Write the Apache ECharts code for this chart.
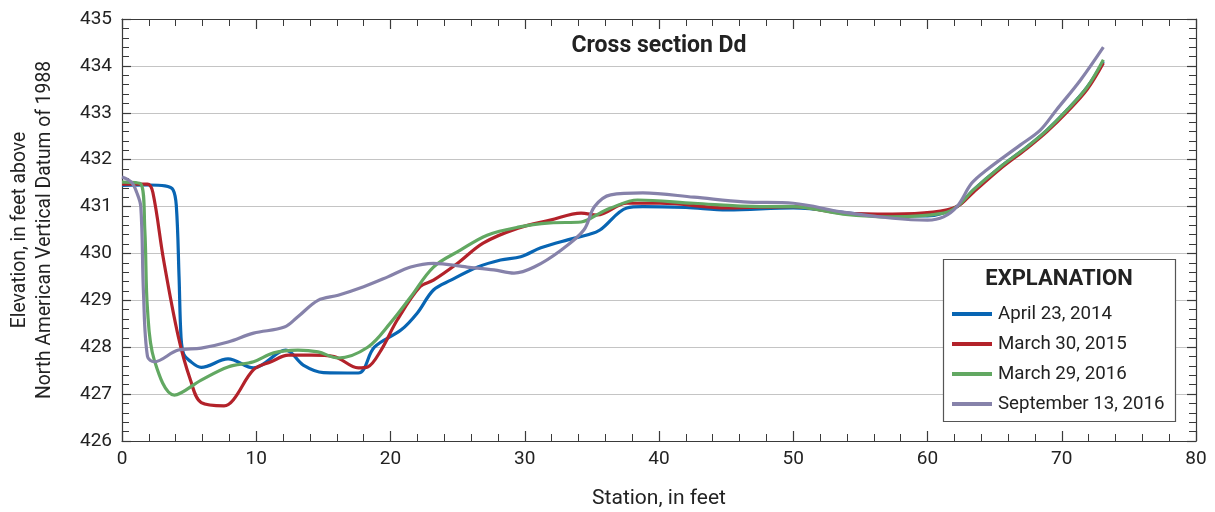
<!DOCTYPE html>
<html>
<head>
<meta charset="utf-8">
<script src="https://cdn.jsdelivr.net/npm/echarts@6/dist/echarts.min.js"></script>
<style>html,body{margin:0;padding:0;background:#fff}#c{width:1215px;height:512px}</style>
</head>
<body>
<div id="c"></div>
<script>
var FONT = 'Roboto, "Liberation Sans", sans-serif';

var seriesNames = ['April 23, 2014', 'March 30, 2015', 'March 29, 2016', 'September 13, 2016'];
var seriesColors = ['#0865b3', '#b3222a', '#62a862', '#8682aa'];

var xTicks = [0, 10, 20, 30, 40, 50, 60, 70, 80];
var yTicks = [426, 427, 428, 429, 430, 431, 432, 433, 434, 435];

var stationA = [0, 2, 3.2, 3.8, 4.05, 4.25, 4.4, 4.6, 5.0, 5.9, 7.9, 9.8, 12.2, 13.5, 15.0, 17.6, 18.8, 20.8, 22.0, 23.2, 24.5, 26.5, 28.2, 29.7, 31.2, 33.2, 34.7, 35.6, 37.6, 38.8, 42, 45.1, 50, 55, 60, 62.2, 63.4, 65.4, 67.4, 68.9, 70.4, 71.9, 73.1];
var elevA = [431.45, 431.46, 431.44, 431.36, 431.0, 429.5, 428.2, 427.85, 427.72, 427.57, 427.75, 427.56, 427.94, 427.62, 427.46, 427.45, 428.0, 428.37, 428.73, 429.22, 429.43, 429.71, 429.86, 429.93, 430.12, 430.29, 430.4, 430.5, 430.97, 431.0, 430.98, 430.93, 430.97, 430.84, 430.8, 431.0, 431.35, 431.84, 432.27, 432.63, 433.06, 433.55, 434.1];

var stationB = [0, 1, 1.9, 2.3, 3.1, 4.2, 5.1, 5.9, 7.6, 8.3, 9.8, 11.1, 12.4, 14.1, 15.8, 17.6, 18.3, 19.3, 20.5, 22.2, 23.2, 25.0, 26.9, 29.5, 31.9, 34.2, 35.4, 37.6, 40.1, 45.1, 50, 53.7, 57.4, 60.4, 62.2, 63.4, 65.4, 67.4, 68.9, 70.4, 71.9, 73.1];
var elevB = [431.48, 431.48, 431.48, 431.3, 429.86, 428.22, 427.3, 426.82, 426.75, 426.88, 427.52, 427.69, 427.83, 427.83, 427.8, 427.56, 427.58, 427.94, 428.58, 429.29, 429.43, 429.79, 430.22, 430.54, 430.71, 430.86, 430.82, 431.07, 431.07, 430.97, 431.0, 430.86, 430.84, 430.88, 431.0, 431.3, 431.8, 432.24, 432.6, 433.02, 433.5, 434.06];

var stationC = [0, 1.4, 1.7, 1.9, 2.4, 3.9, 5.9, 7.9, 9.8, 11.3, 13.1, 14.6, 16.1, 18.3, 20.0, 21.5, 23.2, 25.2, 27.2, 29.5, 31.9, 34.2, 35.6, 36.4, 38.4, 42.6, 47.5, 50, 53.7, 57.4, 61.2, 62.2, 63.4, 65.4, 67.4, 68.9, 70.4, 71.9, 73.1];
var elevC = [431.52, 431.48, 430.5, 428.8, 427.73, 426.98, 427.3, 427.58, 427.69, 427.88, 427.94, 427.9, 427.77, 428.0, 428.52, 429.07, 429.71, 430.07, 430.39, 430.56, 430.65, 430.67, 430.86, 430.97, 431.14, 431.07, 431.0, 431.0, 430.84, 430.78, 430.86, 431.0, 431.35, 431.84, 432.27, 432.63, 433.06, 433.55, 434.13];

var stationD = [0, 0.7, 1.1, 1.4, 1.6, 1.9, 2.4, 4.2, 5.9, 7.9, 9.8, 12.1, 13.1, 14.6, 16.1, 18.0, 19.8, 21.5, 23.2, 25.7, 27.7, 29.2, 30.7, 32.7, 34.4, 35.2, 36.4, 38.8, 42.6, 46.3, 50, 53.7, 57.4, 60, 61.2, 62.2, 63.3, 64.4, 66.9, 68.4, 69.6, 71.4, 73.1];
var elevD = [431.63, 431.52, 431.3, 431.0, 429.16, 427.8, 427.69, 427.94, 427.98, 428.11, 428.3, 428.43, 428.65, 429.0, 429.11, 429.29, 429.5, 429.71, 429.79, 429.71, 429.65, 429.58, 429.71, 430.07, 430.5, 431.0, 431.25, 431.29, 431.2, 431.1, 431.07, 430.88, 430.75, 430.71, 430.78, 431.0, 431.5, 431.78, 432.31, 432.63, 433.06, 433.7, 434.4];

function pairs(xs, ys) { return xs.map(function (x, i) { return [x, ys[i]]; }); }
var allX = [stationA, stationB, stationC, stationD];
var allY = [elevA, elevB, elevC, elevD];

var chart = echarts.init(document.getElementById('c'), null, { renderer: 'canvas' });

var axisLineStyle = { color: '#3a3a3a', width: 1.2 };
function xAx(pos, showLabel) {
  return {
    type: 'value', position: pos, min: xTicks[0], max: xTicks[xTicks.length - 1], interval: 10,
    axisLine: { show: true, onZero: false, lineStyle: axisLineStyle },
    axisTick: { show: true, inside: true, length: 10, lineStyle: { color: '#3a3a3a', width: 1.2 } },
    minorTick: { show: true, splitNumber: 5, length: 7, lineStyle: { color: '#3a3a3a', width: 1 } },
    splitLine: { show: false },
    axisLabel: { show: showLabel, color: '#222', fontFamily: FONT, fontSize: 19, margin: 9 },
    name: showLabel ? 'Station, in feet' : '', nameLocation: 'middle', nameGap: 47,
    nameTextStyle: { color: '#222', fontFamily: FONT, fontSize: 21 }
  };
}
function yAx(pos, showLabel) {
  return {
    type: 'value', position: pos, min: yTicks[0], max: yTicks[yTicks.length - 1], interval: 1,
    axisLine: { show: true, onZero: false, lineStyle: axisLineStyle },
    axisTick: { show: true, inside: true, length: 9, lineStyle: { color: '#3a3a3a', width: 1.2 } },
    minorTick: { show: true, splitNumber: 5, length: 7, lineStyle: { color: '#3a3a3a', width: 1 } },
    splitLine: { show: showLabel, lineStyle: { color: '#c4c4c4', width: 1.2 } },
    axisLabel: { show: showLabel, color: '#222', fontFamily: FONT, fontSize: 19, margin: 10 },
    name: showLabel ? 'Elevation, in feet above\nNorth American Vertical Datum of 1988' : '',
    nameLocation: 'middle', nameGap: 64, nameRotate: 90,
    nameTextStyle: { color: '#222', fontFamily: FONT, fontSize: 19.3, lineHeight: 25 }
  };
}

var series = seriesNames.map(function (n, i) {
  return {
    name: n, type: 'line', xAxisIndex: 0, yAxisIndex: 0,
    data: pairs(allX[i], allY[i]),
    smooth: 0.35, showSymbol: false, symbol: 'none',
    lineStyle: { color: seriesColors[i], width: 3.2 },
    itemStyle: { color: seriesColors[i] },
    z: 2 + i, animation: false
  };
});

chart.setOption({
  animation: false,
  backgroundColor: '#fff',
  grid: { left: 122, right: 19, top: 19, bottom: 71, containLabel: false, outerBoundsMode: 'none' },
  xAxis: [xAx('bottom', true), xAx('top', false)],
  yAxis: [yAx('left', true), yAx('right', false)],
  legend: {
    show: true, orient: 'vertical', left: 952, top: 304, itemGap: 10, z: 100,
    itemWidth: 40, itemHeight: 4, icon: 'rect', padding: 0,
    data: seriesNames,
    textStyle: { color: '#222', fontFamily: FONT, fontSize: 18.7, lineHeight: 20, padding: [0, 0, 0, 1] },
    selectedMode: false
  },
  graphic: [
    { type: 'rect', shape: { x: 943.5, y: 259.5, width: 232, height: 162 },
      style: { fill: '#fff', stroke: '#555', lineWidth: 1.2 }, z: 50 },
    { type: 'text', x: 1059, y: 268, style: { text: 'EXPLANATION', fill: '#222', align: 'center',
      font: 'bold 22px ' + FONT }, z: 51 },
    { type: 'text', x: 659, y: 35, style: { text: 'Cross section Dd', fill: '#222', align: 'center',
      font: 'bold 23px ' + FONT }, z: 51 }
  ],
  series: series
});
</script>
</body>
</html>
